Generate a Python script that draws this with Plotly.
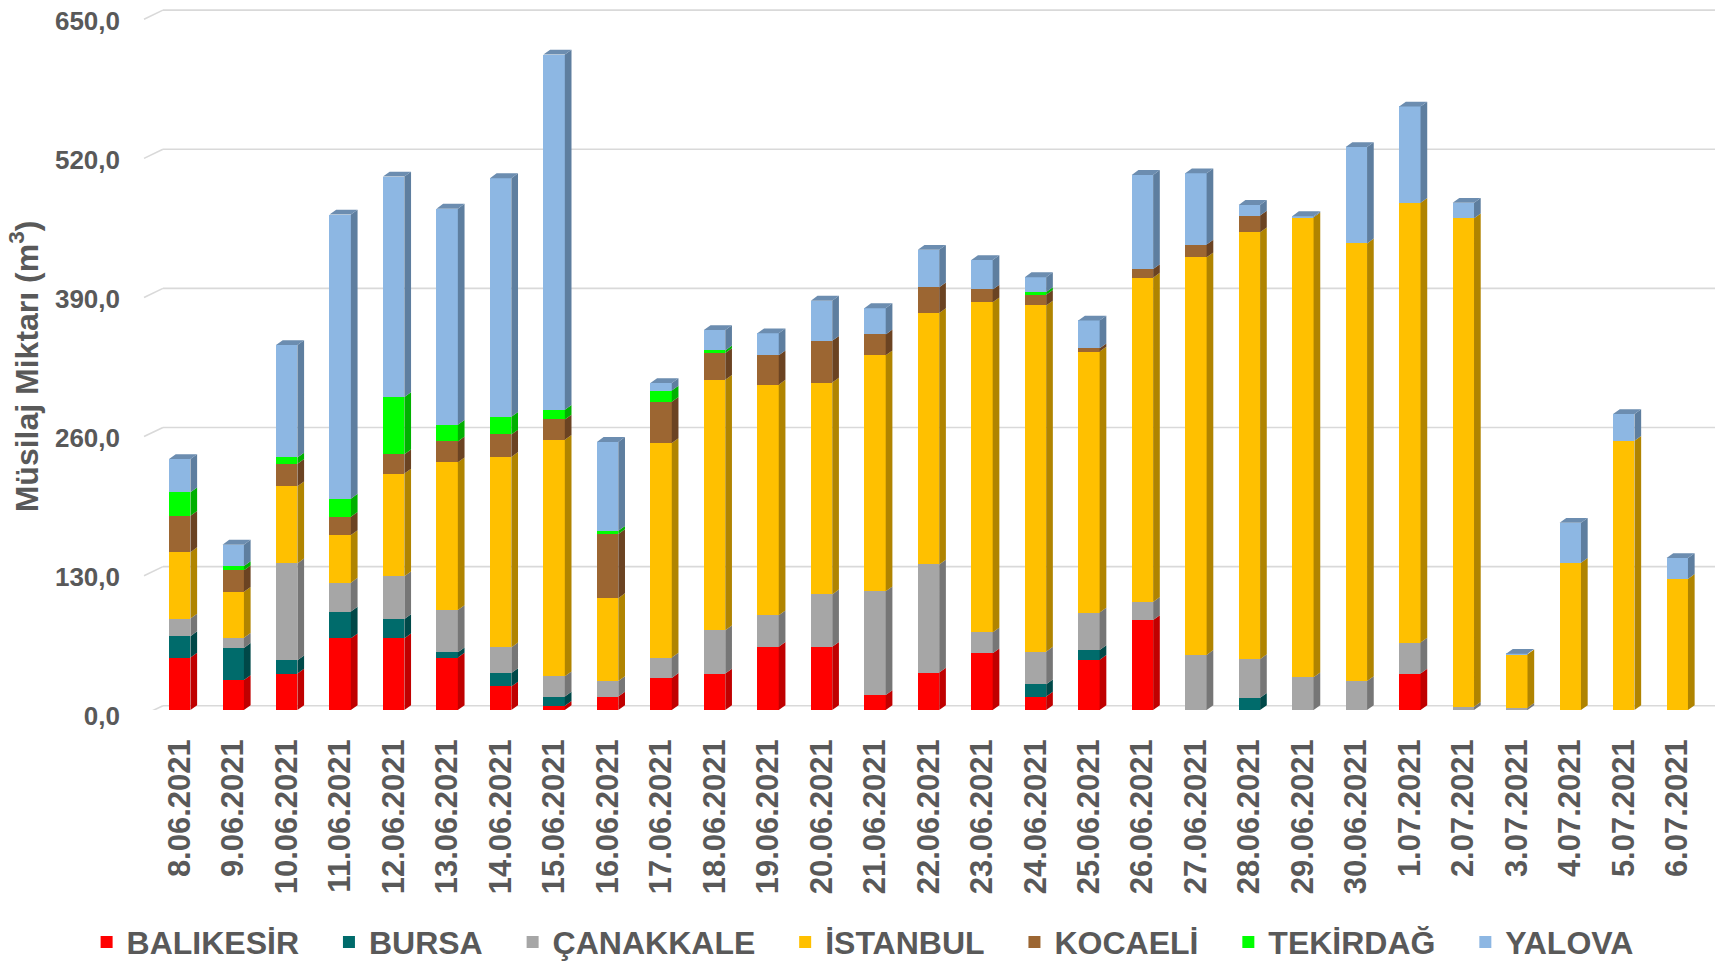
import numpy as np
import plotly.graph_objects as go

dates = ["8.06.2021", "9.06.2021", "10.06.2021", "11.06.2021", "12.06.2021", "13.06.2021",
         "14.06.2021", "15.06.2021", "16.06.2021", "17.06.2021", "18.06.2021", "19.06.2021",
         "20.06.2021", "21.06.2021", "22.06.2021", "23.06.2021", "24.06.2021", "25.06.2021",
         "26.06.2021", "27.06.2021", "28.06.2021", "29.06.2021", "30.06.2021", "1.07.2021",
         "2.07.2021", "3.07.2021", "4.07.2021", "5.07.2021", "6.07.2021"]

balikesir = [49, 28, 34, 67, 67, 49, 22, 4, 12.5, 30, 34, 59, 59, 14, 35, 53, 12.5, 47, 84,
             0, 0, 0, 0, 34, 0, 0, 0, 0, 0]
bursa = [20, 30, 12.5, 25, 18, 5, 12.5, 8.5, 0, 0, 0, 0, 0, 0, 0, 0, 11.5, 9, 0,
         0, 11.5, 0, 0, 0, 0, 0, 0, 0, 0]
canakkale = [16.5, 9.5, 90.5, 27, 40, 39.5, 24, 19, 14.5, 19, 40.5, 29.5, 49, 97, 101, 19.5,
             30.5, 35, 17, 51.5, 36, 30.5, 27, 29, 3, 2, 0, 0, 0]
istanbul = [62, 43, 72, 44.5, 96, 138, 178, 221, 77.5, 200.5, 234, 215.5, 198, 220.5, 235,
            308.5, 323.5, 244, 303, 371.5, 399, 430, 409, 411, 456.5, 50, 137.5, 251.5, 122.5]
kocaeli = [34, 20, 21, 17, 18, 19.5, 21, 19, 60, 38.5, 25, 27.5, 39, 19.5, 24, 12, 10, 3, 8,
           12, 15.5, 0, 0, 0, 0, 0, 0, 0, 0]
tekirdag = [22, 4, 6, 17, 53.5, 15.5, 16.5, 9, 3, 10.5, 2.5, 0, 0, 0, 0, 0, 2.5, 0, 0,
            0, 0, 0, 0, 0, 0, 0, 0, 0, 0]
yalova = [31, 20, 105, 265.5, 206, 202, 223, 332, 83, 7, 19, 20.5, 37.5, 24.5, 35, 27.5, 14,
          26, 88, 66.5, 10, 1, 90, 90, 14.5, 0.5, 37.5, 25, 19.5]

series_names = ["BALIKESİR", "BURSA", "ÇANAKKALE", "İSTANBUL", "KOCAELİ", "TEKİRDAĞ", "YALOVA"]
series_values = [balikesir, bursa, canakkale, istanbul, kocaeli, tekirdag, yalova]

front_colors = ["#FF0000", "#006B6B", "#A6A6A6", "#FFC000", "#9C6632", "#00FF00", "#8DB7E3"]
side_colors = ["#C00000", "#004848", "#767676", "#B08400", "#6B4322", "#00B000", "#5E7E9F"]
top_colors = ["#D40000", "#005656", "#8C8C8C", "#C99700", "#7C5029", "#00CC00", "#6C8DB0"]

y_ticks = [0, 130, 260, 390, 520, 650]
y_title = "Müsilaj Miktarı (m<sup>3</sup>)"

# 3D look parameters (in axis units)
W = 0.40       # front face width (category units)
SX = 0.125     # depth offset, x
SY = 4.5       # depth offset, y (value units)
GRID_OFF = 4.0  # back-wall gridline offset (value units)

xpos = np.arange(len(dates))
vals = np.array(series_values, dtype=float)
tops = np.cumsum(vals, axis=0)
bases = tops - vals
totals = tops[-1]

fig = go.Figure()

gap = "\u2002\u00a0"
for k, name in enumerate(series_names):
    label = name + (gap if k < len(series_names) - 1 else "")
    fig.add_trace(go.Bar(
        x=xpos, y=vals[k], name=label, width=W,
        marker=dict(color=front_colors[k], line=dict(width=0)),
    ))

# side faces
for k in range(len(series_names)):
    xs, ys = [], []
    for i in range(len(dates)):
        v = vals[k, i]
        if v <= 0:
            continue
        b0, b1 = bases[k, i], tops[k, i]
        xr = xpos[i] + W / 2
        xs += [xr, xr + SX, xr + SX, xr, xr, None]
        ys += [b0, b0 + SY, b1 + SY, b1, b0, None]
    if xs:
        fig.add_trace(go.Scatter(
            x=xs, y=ys, mode="lines", fill="toself", fillcolor=side_colors[k],
            line=dict(width=0, color=side_colors[k]), showlegend=False, hoverinfo="skip"))

# top faces, coloured by the topmost non-zero series
top_xs = {k: [] for k in range(len(series_names))}
top_ys = {k: [] for k in range(len(series_names))}
for i in range(len(dates)):
    nz = [k for k in range(len(series_names)) if vals[k, i] > 0]
    if not nz:
        continue
    k = nz[-1]
    T = totals[i]
    xl, xr = xpos[i] - W / 2, xpos[i] + W / 2
    top_xs[k] += [xl, xl + SX, xr + SX, xr, xl, None]
    top_ys[k] += [T, T + SY, T + SY, T, T, None]
for k in range(len(series_names)):
    if top_xs[k]:
        fig.add_trace(go.Scatter(
            x=top_xs[k], y=top_ys[k], mode="lines", fill="toself", fillcolor=top_colors[k],
            line=dict(width=0, color=top_colors[k]), showlegend=False, hoverinfo="skip"))

# back-wall gridlines with perspective stubs
shapes = []
for t in y_ticks:
    shapes.append(dict(type="line", xref="paper", yref="y", x0=0.0064, x1=1.03,
                       y0=t + GRID_OFF, y1=t + GRID_OFF, layer="below",
                       line=dict(color="#D9D9D9", width=1.6)))
    shapes.append(dict(type="line", xref="paper", yref="y", x0=-0.0058, x1=0.0064,
                       y0=t - 4.5, y1=t + GRID_OFF, layer="below",
                       line=dict(color="#D9D9D9", width=1.6)))

fig.update_layout(
    width=1723, height=961,
    margin=dict(l=145, r=27, t=0, b=259, autoexpand=False),
    paper_bgcolor="white", plot_bgcolor="white",
    barmode="stack", bargap=0.6,
    separators=",.",
    font=dict(family="Arial, Liberation Sans, sans-serif", color="#595959", weight="bold"),
    shapes=shapes,
    showlegend=True,
    legend=dict(orientation="h", xref="container", yref="container",
                x=0.496, xanchor="center", y=0.028, yanchor="middle",
                bgcolor="rgba(0,0,0,0)",
                font=dict(size=32, color="#595959", weight="bold"),
                traceorder="normal", itemwidth=30),
    annotations=[dict(text=y_title, xref="paper", yref="paper", x=-0.083, y=0.49,
                      xanchor="center", yanchor="middle", textangle=-90, showarrow=False,
                      font=dict(size=32, color="#595959", weight="bold"))],
    xaxis=dict(range=[-0.5, len(dates) - 0.5], tickmode="array", tickvals=xpos, ticktext=dates,
               tickangle=-90, showgrid=False, zeroline=False, showline=False, ticks="",
               ticklabelstandoff=22,
               tickfont=dict(size=31, color="#595959", weight="bold")),
    yaxis=dict(range=[0, 656], tickmode="array", tickvals=y_ticks, tickformat=".1f",
               showgrid=False, zeroline=False, showline=False, ticks="",
               ticklabelstandoff=32, ticklabelshift=6, ticklabeloverflow="allow",
               tickfont=dict(size=26, color="#595959", weight="bold")),
)

fig.write_html("out.html")
